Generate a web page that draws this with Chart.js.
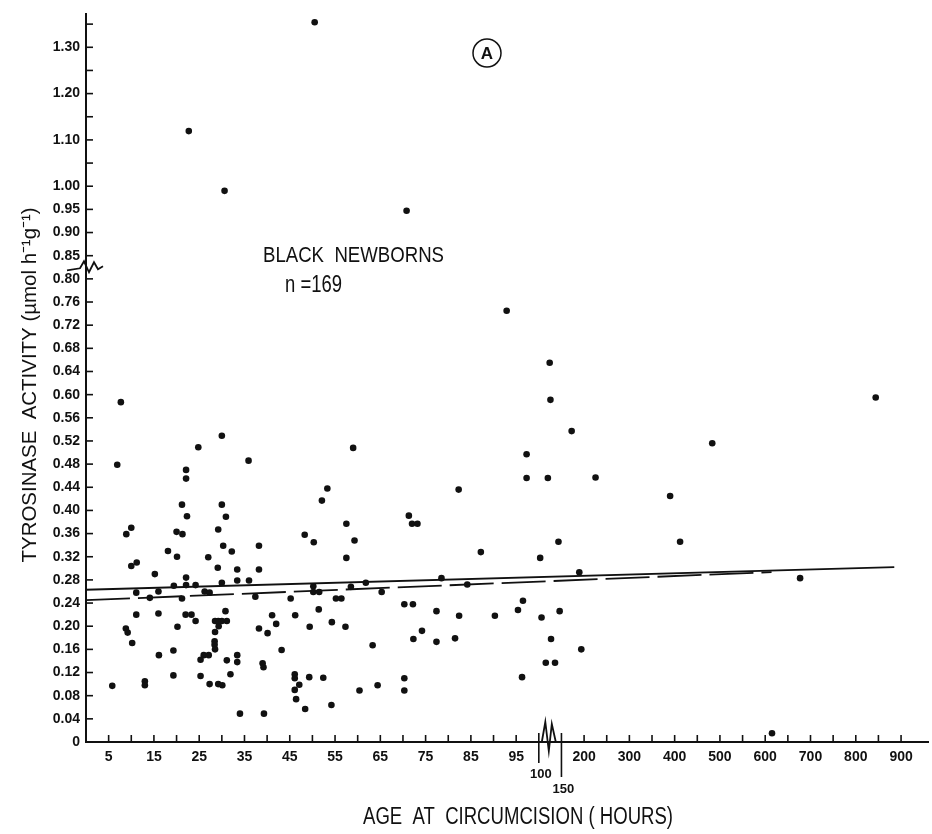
<!DOCTYPE html>
<html lang="en">
<head>
    <meta charset="UTF-8">
    <title>Tyrosinase activity vs age at circumcision</title>
    <script src="https://cdn.jsdelivr.net/npm/chart.js"></script>
    <style>
        body { margin: 0; background: #fff; }
        #plot { display: block; }
    </style>
</head>
<body>
    <canvas id="plot" width="932" height="834"></canvas>
    <script>
        // age at circumcision (hours) and tyrosinase activity
        const hours = [
            7.7, 6.9, 30.0, 24.8, 35.9, 22.1, 22.1, 21.2, 30.0, 22.3,
            30.9, 8.9, 10.0, 20.0, 21.3, 29.2, 30.3, 38.2, 18.1, 20.1,
            27.0, 32.2, 10.0, 11.2, 29.1, 33.4, 38.2, 15.2, 22.1, 33.4,
            36.0, 30.0, 19.4, 22.1, 24.2, 11.1, 16.0, 26.2, 27.3, 14.1,
            21.2, 37.4, 11.1, 16.0, 22.0, 23.3, 24.2, 30.8, 28.5, 29.2,
            30.0, 31.1, 29.3, 20.2, 38.2, 8.8, 9.2, 28.5, 10.2, 28.4,
            28.4, 28.5, 19.3, 16.1, 26.0, 27.1, 25.3, 31.1, 33.4, 33.4,
            39.0, 39.2, 5.8, 13.0, 13.0, 19.3, 25.3, 31.9, 27.3, 29.2,
            30.1, 34.0, 39.3,
            59.0, 53.3, 52.1, 71.3, 72.0, 73.2, 57.5, 48.3, 50.3, 59.3,
            57.5, 50.2, 50.2, 51.5, 58.5, 61.8, 45.2, 55.2, 56.4, 65.3,
            70.3, 72.2, 41.1, 46.2, 42.0, 51.4, 40.1, 49.4, 54.3, 57.3,
            74.2, 72.3, 63.3, 43.2, 46.1, 46.1, 47.1, 46.1, 46.4, 48.4,
            49.3, 52.4, 54.2, 60.4, 64.4, 70.3, 70.3,
            97.3, 97.3, 82.3, 87.2, 78.5, 84.2, 77.4, 82.4, 90.3, 95.4,
            96.5, 77.4, 81.5, 96.3,
            124, 125.7, 120, 127, 115.4, 135.8, 106, 146, 103, 143.4,
            172.5, 225.3, 189.4, 193.8, 483, 390, 412, 677, 844, 615,
            50.5, 22.7, 30.6, 70.8, 92.9
        ];
        const activity = [
            0.587, 0.479, 0.529, 0.509, 0.486, 0.470, 0.455, 0.410, 0.410, 0.390,
            0.389, 0.359, 0.370, 0.363, 0.359, 0.367, 0.339, 0.339, 0.330, 0.320,
            0.319, 0.329, 0.304, 0.310, 0.301, 0.298, 0.298, 0.290, 0.284, 0.279,
            0.279, 0.275, 0.270, 0.271, 0.271, 0.258, 0.260, 0.260, 0.258, 0.249,
            0.248, 0.251, 0.220, 0.222, 0.220, 0.220, 0.209, 0.226, 0.209, 0.209,
            0.209, 0.209, 0.200, 0.199, 0.196, 0.196, 0.189, 0.190, 0.171, 0.174,
            0.168, 0.160, 0.158, 0.150, 0.150, 0.150, 0.142, 0.141, 0.150, 0.138,
            0.136, 0.129, 0.097, 0.105, 0.098, 0.115, 0.114, 0.117, 0.100, 0.100,
            0.098, 0.049, 0.049,
            0.508, 0.438, 0.417, 0.391, 0.377, 0.377, 0.377, 0.358, 0.345, 0.348,
            0.318, 0.269, 0.259, 0.259, 0.268, 0.275, 0.248, 0.248, 0.248, 0.259,
            0.238, 0.238, 0.219, 0.219, 0.204, 0.229, 0.188, 0.199, 0.207, 0.199,
            0.192, 0.178, 0.167, 0.159, 0.117, 0.110, 0.099, 0.090, 0.074, 0.057,
            0.112, 0.111, 0.064, 0.089, 0.098, 0.110, 0.089,
            0.497, 0.456, 0.436, 0.328, 0.283, 0.272, 0.226, 0.218, 0.218, 0.228,
            0.244, 0.173, 0.179, 0.112,
            0.655, 0.591, 0.456, 0.178, 0.137, 0.137, 0.215, 0.226, 0.318, 0.346,
            0.537, 0.457, 0.293, 0.160, 0.516, 0.425, 0.346, 0.283, 0.595, 0.015,
            1.354, 1.119, 0.990, 0.947, 0.745
        ];

        // regression lines (end points)
        const solidHours = [0, 885];
        const solidValues = [0.263, 0.302];
        const dashedHours = [0, 614];
        const dashedValues = [0.245, 0.2935];

        // tick labels
        const xLabelsLow = [5, 15, 25, 35, 45, 55, 65, 75, 85, 95];
        const xLabelsHigh = [200, 300, 400, 500, 600, 700, 800, 900];
        const yLabelsHigh = [0.85, 0.90, 0.95, 1.00, 1.10, 1.20, 1.30];

        const ink = '#111';
        const font = 'Liberation Sans';

        // broken axes: 5 h per unit up to 100 h, then 50 h per unit
        function xPos(h) { return h <= 100 ? h / 5 : 20 + (h - 100) / 50; }
        function xHours(d) { return d <= 20 ? d * 5 : 100 + (d - 20) * 50; }
        // 0.04 per unit up to 0.80, then 0.05 per unit from 0.85
        function yPos(v) { return v <= 0.82 ? v / 0.04 : 21 + (v - 0.85) / 0.05; }
        function yValue(d) { return d <= 20 ? d * 0.04 : 0.85 + (d - 21) * 0.05; }

        const points = hours.map((h, i) => ({ x: xPos(h), y: yPos(activity[i]) }));
        const solid = solidHours.map((h, i) => ({ x: xPos(h), y: yPos(solidValues[i]) }));
        const dashed = dashedHours.map((h, i) => ({ x: xPos(h), y: yPos(dashedValues[i]) }));

        function seg(ctx, pts) {
            ctx.beginPath();
            ctx.moveTo(pts[0][0], pts[0][1]);
            for (let i = 1; i < pts.length; i++) ctx.lineTo(pts[i][0], pts[i][1]);
            ctx.stroke();
        }

        const decor = {
            id: 'decor',
            afterDraw(chart) {
                const { ctx, chartArea: a, scales: { x, y } } = chart;
                ctx.save();
                ctx.strokeStyle = ink;
                ctx.fillStyle = ink;
                ctx.lineWidth = 1.6;

                // inward tick marks
                y.ticks.forEach(t => {
                    const py = y.getPixelForValue(t.value);
                    seg(ctx, [[a.left, py], [a.left + 7, py]]);
                });
                x.ticks.forEach(t => {
                    if (t.value === 20 || t.value === 21) return;
                    const px = x.getPixelForValue(t.value);
                    seg(ctx, [[px, a.bottom], [px, a.bottom - 7]]);
                });

                // long ticks at 100 and 150 around the break
                const p100 = x.getPixelForValue(20);
                const p150 = x.getPixelForValue(21);
                seg(ctx, [[p100, a.bottom - 9], [p100, a.bottom + 21]]);
                seg(ctx, [[p150, a.bottom - 9], [p150, a.bottom + 35]]);
                ctx.font = 'bold 13px ' + font;
                ctx.textAlign = 'center';
                ctx.textBaseline = 'middle';
                ctx.fillText('100', p100 + 2, a.bottom + 32);
                ctx.fillText('150', p150 + 2, a.bottom + 47);

                // x break zigzag
                ctx.lineWidth = 1.8;
                seg(ctx, [[p100 + 3, a.bottom], [p100 + 6.5, a.bottom - 20], [p100 + 10, a.bottom + 9],
                          [p100 + 13, a.bottom - 18], [p100 + 17, a.bottom]]);

                // y break zigzag
                const pb = y.getPixelForValue(20.5);
                seg(ctx, [[a.left - 19, pb + 3], [a.left - 6, pb + 1], [a.left - 2, pb - 6],
                          [a.left + 3, pb + 5], [a.left + 8, pb - 5], [a.left + 12, pb + 2], [a.left + 17, pb - 1]]);

                // axis titles
                ctx.save();
                ctx.translate(30, 385);
                ctx.rotate(-Math.PI / 2);
                ctx.font = '21px ' + font;
                ctx.fillText('TYROSINASE  ACTIVITY (\u00b5mol h\u207b\u00b9g\u207b\u00b9)', 0, 0, 355);
                ctx.restore();

                ctx.font = '23px ' + font;
                ctx.fillText('AGE  AT  CIRCUMCISION ( HOURS)', 518, 818, 310);

                // annotations
                ctx.textAlign = 'left';
                ctx.font = '22px ' + font;
                ctx.fillText('BLACK  NEWBORNS', 263, 256, 181);
                ctx.font = '23px ' + font;
                ctx.fillText('n =169', 285, 286, 57);

                ctx.lineWidth = 1.5;
                ctx.beginPath();
                ctx.arc(487, 53, 14, 0, Math.PI * 2);
                ctx.stroke();
                ctx.textAlign = 'center';
                ctx.font = 'bold 17px ' + font;
                ctx.fillText('A', 487, 54);
                ctx.restore();
            }
        };

        const config = {
            type: 'scatter',
            data: {
                datasets: [
                    {
                        label: 'Black newborns',
                        data: points,
                        pointRadius: 3.3,
                        pointBackgroundColor: ink,
                        pointBorderWidth: 0
                    },
                    {
                        label: 'Regression',
                        data: solid,
                        showLine: true,
                        pointRadius: 0,
                        borderColor: ink,
                        borderWidth: 1.8
                    },
                    {
                        label: 'Regression (dashed)',
                        data: dashed,
                        showLine: true,
                        pointRadius: 0,
                        borderColor: ink,
                        borderWidth: 1.8,
                        borderDash: [44, 8]
                    }
                ]
            },
            options: {
                responsive: false,
                animation: false,
                layout: { padding: { top: 13, right: 0, left: 0, bottom: 0 } },
                plugins: {
                    legend: { display: false },
                    tooltip: { enabled: false }
                },
                scales: {
                    x: {
                        type: 'linear',
                        min: 0,
                        max: 37.19,
                        afterBuildTicks: s => {
                            const t = [];
                            for (let d = 1; d <= 36; d++) t.push({ value: d });
                            s.ticks = t;
                        },
                        afterFit: s => { s.height = 92; },
                        grid: { display: false, drawTicks: false },
                        border: { display: true, color: ink, width: 2 },
                        ticks: {
                            autoSkip: false,
                            maxRotation: 0,
                            padding: 7,
                            color: ink,
                            font: { family: font, size: 14, weight: 'bold' },
                            callback: v => {
                                const h = Math.round(xHours(v));
                                return (xLabelsLow.includes(h) || xLabelsHigh.includes(h)) ? String(h) : '';
                            }
                        }
                    },
                    y: {
                        min: 0,
                        max: 31.42,
                        afterBuildTicks: s => {
                            const t = [];
                            for (let d = 0; d <= 31; d++) t.push({ value: d });
                            s.ticks = t;
                        },
                        afterFit: s => { s.width = 86; },
                        grid: { display: false, drawTicks: false },
                        border: { display: true, color: ink, width: 2 },
                        ticks: {
                            autoSkip: false,
                            padding: 6,
                            color: ink,
                            font: { family: font, size: 14, weight: 'bold' },
                            callback: v => {
                                if (v === 0) return '0';
                                const val = Math.round(yValue(v) * 100) / 100;
                                if (v <= 20) return val.toFixed(2);
                                return yLabelsHigh.some(l => Math.abs(l - val) < 1e-6) ? val.toFixed(2) : '';
                            }
                        }
                    }
                }
            },
            plugins: [decor]
        };

        new Chart(document.getElementById('plot'), config);
    </script>
</body>
</html>
